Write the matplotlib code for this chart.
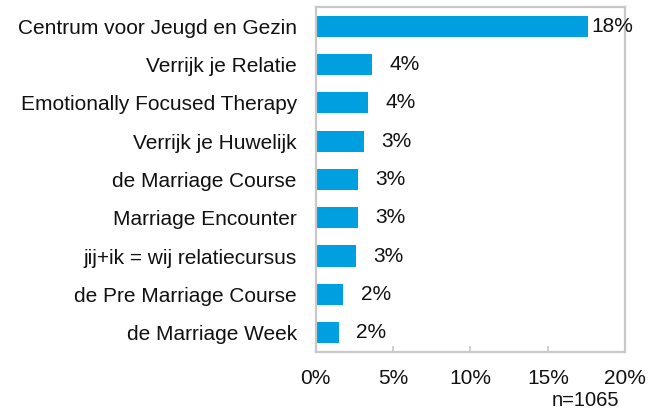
import matplotlib.pyplot as plt

plt.rcParams['font.family'] = ['Liberation Sans', 'DejaVu Sans']

categories = ["Centrum voor Jeugd en Gezin", "Verrijk je Relatie",
              "Emotionally Focused Therapy", "Verrijk je Huwelijk",
              "de Marriage Course", "Marriage Encounter",
              "jij+ik = wij relatiecursus", "de Pre Marriage Course",
              "de Marriage Week"]
values = [17.6, 3.62, 3.4, 3.15, 2.75, 2.73, 2.6, 1.8, 1.5]
value_labels = ["18%", "4%", "4%", "3%", "3%", "3%", "3%", "2%", "2%"]
xticks = [0, 5, 10, 15, 20]
xtick_labels = ["0%", "5%", "10%", "15%", "20%"]
note = "n=1065"

fs = 15
fig = plt.figure(figsize=(6.48, 4.11), dpi=100)
ax = fig.add_axes([0.487, 0.144, 0.478, 0.839])

ypos = list(range(len(categories)))
ax.barh(ypos, values, height=0.55, color='#009FDF', edgecolor='none')
ax.set_ylim(len(categories) - 0.5, -0.5)
ax.set_xlim(0, 20)

for y, v, lab in zip(ypos, values, value_labels):
    off = 2 if v > 15 else 12.5
    ax.annotate(lab, (v, y), xytext=(off, 0), textcoords='offset points',
                va='center', ha='left', fontsize=fs, color='#111111')

ax.set_yticks(ypos)
ax.set_yticklabels(categories, fontsize=fs, color='#111111')
ax.tick_params(axis='y', length=0, pad=13.5)
ax.set_xticks(xticks)
ax.set_xticklabels(xtick_labels, fontsize=fs, color='#111111')
ax.tick_params(axis='x', direction='in', length=4.5, width=1.2,
               color='#c8c8c8', pad=12.5)

for s in ax.spines.values():
    s.set_color('#c8c8c8')
    s.set_linewidth(1.6)

fig.text(585 / 648, 1 / 411, note, ha='center', va='bottom',
         fontsize=14.5, color='#111111')

fig.savefig('out.png', dpi=100)
